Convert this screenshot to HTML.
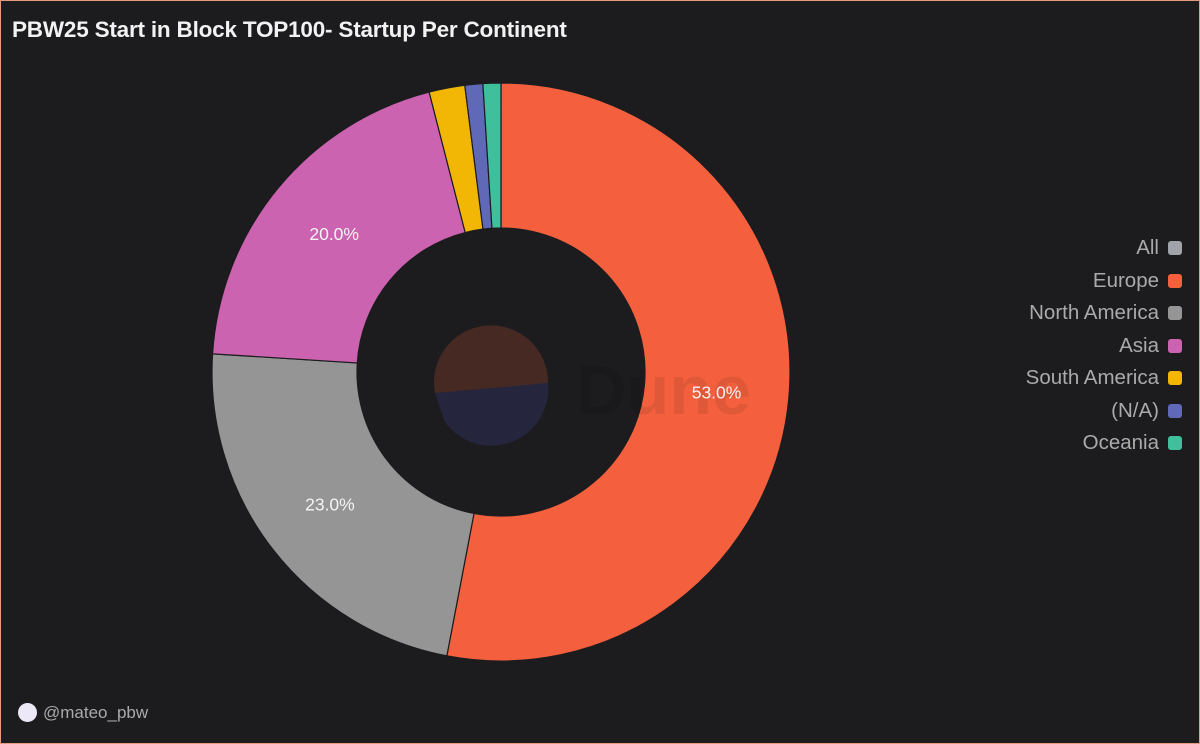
<!DOCTYPE html>
<html><head><meta charset="utf-8"><style>
body{margin:0;width:1200px;height:744px;background:#1c1c1e;overflow:hidden;font-family:"Liberation Sans",sans-serif}
#frame{position:absolute;left:0;top:0;width:1198px;height:742px;border:1px solid #e89a80;background:#1c1c1e}
#title{position:absolute;left:12px;top:17px;color:#f2f2f2;font-weight:bold;font-size:22.5px;letter-spacing:-0.2px}
#leg{position:absolute;right:18px;top:236px;text-align:right}
.li{height:32.5px;line-height:24px;color:#aaa;font-size:20.5px}
.sw{display:inline-block;width:14px;height:14px;border-radius:3px;margin-left:9px;vertical-align:-1px}
#user{position:absolute;left:18px;top:703px;color:#aaa;font-size:17px}
#user span{display:inline-block;width:19px;height:19px;border-radius:50%;background:#ece8f8;vertical-align:-4px;margin-right:6px}
</style></head><body>
<div id="frame"></div>
<div id="title">PBW25 Start in Block TOP100- Startup Per Continent</div>
<svg id="chart" width="1200" height="744" style="position:absolute;left:0;top:0">
<g id="slices"></g>
<g id="wm">
<path d="M435,393 A57,57 0 1 1 548,383 Z" fill="#f4603e" opacity="0.2"/>
<path d="M445,422 A57,57 0 0 0 548,383 L435,393 Z" fill="#5c5cf0" opacity="0.15"/>
<text x="576" y="414" font-size="70" font-weight="bold" fill="#000" opacity="0.08" font-family="Liberation Sans">Dune</text>
</g>
<g id="labels"></g>
</svg>
<div id="leg"></div>
<div id="user"><span></span>@mateo_pbw</div>
<script>
const categories=["Europe","North America","Asia","South America","(N/A)","Oceania"];
const values=[53,23,20,2,1,1];
const colors=["#f4603e","#959595","#cc63b0","#f2b705","#5f69b8","#3fbf9c"];
const legendNames=["All","Europe","North America","Asia","South America","(N/A)","Oceania"];
const legendColors=["#a0a4aa","#f4603e","#959595","#cc63b0","#f2b705","#5f69b8","#3fbf9c"];
const cx=501,cy=372,R=289,r=144,ns="http://www.w3.org/2000/svg";
const total=values.reduce((a,b)=>a+b,0);
const pt=(a,rad)=>[cx+rad*Math.sin(a),cy-rad*Math.cos(a)];
let acc=0;
const gs=document.getElementById('slices'),gl=document.getElementById('labels');
values.forEach((v,i)=>{
  const a0=acc/total*2*Math.PI;acc+=v;const a1=acc/total*2*Math.PI;
  const lg=a1-a0>Math.PI?1:0;
  const [x0,y0]=pt(a0,R),[x1,y1]=pt(a1,R),[x2,y2]=pt(a1,r),[x3,y3]=pt(a0,r);
  const p=document.createElementNS(ns,'path');
  p.setAttribute('d',`M${x0},${y0}A${R},${R} 0 ${lg} 1 ${x1},${y1}L${x2},${y2}A${r},${r} 0 ${lg} 0 ${x3},${y3}Z`);
  p.setAttribute('fill',colors[i]);p.setAttribute('stroke','#1c1c1e');p.setAttribute('stroke-width','1.2');
  
  
  gs.appendChild(p);
  if(v/total>=0.05){
    const [lx,ly]=pt((a0+a1)/2,(R+r)/2);
    const t=document.createElementNS(ns,'text');
    t.setAttribute('x',lx);t.setAttribute('y',ly+6);t.setAttribute('text-anchor','middle');
    t.setAttribute('fill','#f4f4f4');t.setAttribute('font-size','17.5');t.setAttribute('font-family','Liberation Sans');
    t.textContent=(v/total*100).toFixed(1)+'%';
    
    
    gl.appendChild(t);
  }
});
const leg=document.getElementById('leg');
legendNames.forEach((n,i)=>{
  const d=document.createElement('div');d.className='li';
  d.innerHTML=n+'<span class="sw" style="background:'+legendColors[i]+'"></span>';
  
  
  leg.appendChild(d);
});
</script>
</body></html>
